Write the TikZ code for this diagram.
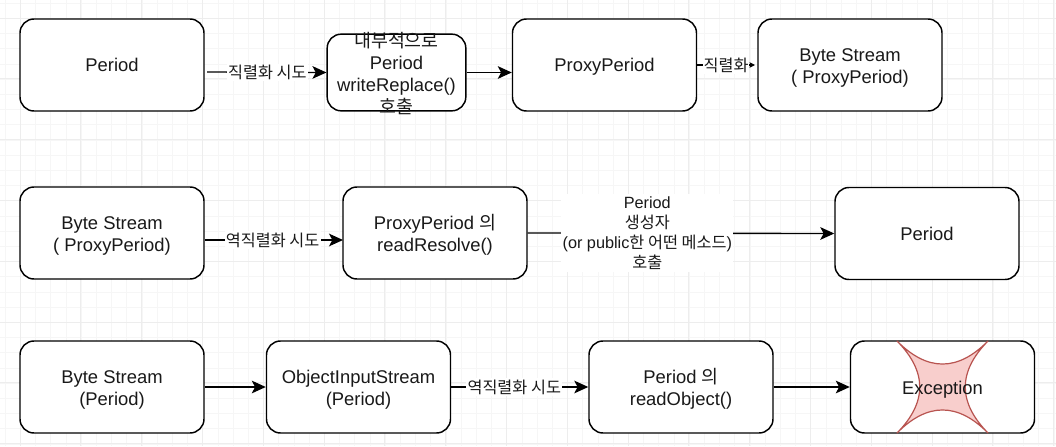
\documentclass[tikz,border=0pt]{standalone}
\usepackage{fontspec}
\setmainfont{Liberation Sans}
\newfontfamily\cjk{Noto Sans CJK KR}
\usetikzlibrary{arrows.meta}
\definecolor{starfill}{HTML}{F8CECC}
\definecolor{starline}{HTML}{B85450}
\newcommand{\dropline}{\rule{0pt}{14.5pt}}
\tikzset{
  x=0.75pt,y=-0.75pt,
  boxtext/.style={align=center,inner sep=0pt,font=\fontsize{13.8pt}{16.5pt}\selectfont,text=black!90},
  box/.style={boxtext,draw=black,line width=1.1pt,rounded corners=10.5pt,fill=white,minimum width=#1,minimum height=69pt},
  box/.default={138pt},
  conn/.style={line width=1pt,-{Stealth[length=10.5pt,width=9.5pt,inset=2.5pt]}},
  smallconn/.style={line width=1pt,-{Stealth[length=4pt,width=4pt,inset=0.5pt]}},
  elabel/.style={fill=white,inner xsep=1pt,inner ysep=1pt,align=center,font=\fontsize{12.2pt}{15pt}\selectfont,text=black!90},
  gmin/.style={draw=black!3.5,line width=0.4pt},
  gmaj/.style={draw=black!7,line width=0.6pt},
}
\begin{document}
\begin{tikzpicture}
\useasboundingbox (0,0) rectangle (1056,446);
\fill[white] (0,0) rectangle (1056,446);
\foreach \i in {0,...,70}{\draw[gmin] ({5+15.2*\i},0) -- ({5+15.2*\i},446);}
\foreach \i in {0,...,30}{\draw[gmin] (0,{3+15.2*\i}) -- (1056,{3+15.2*\i});}
\foreach \i in {0,...,17}{\draw[gmaj] ({20+60.8*\i},0) -- ({20+60.8*\i},446);}
\foreach \i in {0,...,7}{\draw[gmaj] (0,{18+60.8*\i}) -- (1056,{18+60.8*\i});}
% row 1
\node[box] (a1) at (112,65) {Period};
\node[box=104pt,minimum height=57.5pt] (a2) at (396.5,72.5) {};
\node[boxtext] (a2t) at (396.5,71) {\dropline{\cjk 내부적으로}\\Period\\writeReplace()\\{\cjk 호출}};
\node[box] (a3) at (604.5,65) {\rule{0pt}{13pt}ProxyPeriod};
\node[box] (a4) at (850,65) {\dropline Byte Stream\\( ProxyPeriod)};
% row 2
\node[box] (b1) at (112,233) {\dropline Byte Stream\\( ProxyPeriod)};
\node[box] (b2) at (435,233) {\dropline ProxyPeriod {\cjk 의}\\readResolve()};
\node[box] (b3) at (927,233.5) {Period};
% row 3
\node[box] (c1) at (112,387) {\dropline Byte Stream\\(Period)};
\node[box] (c2) at (358.5,387) {\dropline ObjectInputStream\\(Period)};
\node[box] (c3) at (681,387) {\dropline Period {\cjk 의}\\readObject()};
\node[box] (c4) at (942.5,387) {};
\filldraw[fill=starfill,draw=starline,line width=0.9pt,line join=round] (897,341) .. controls (927.3,371.7) and (957.7,371.7) .. (988,341)
  .. controls (957.7,371.7) and (957.7,402.3) .. (988,433)
  .. controls (957.7,402.3) and (927.3,402.3) .. (897,433)
  .. controls (927.3,402.3) and (927.3,371.7) .. (897,341) -- cycle;
\node[boxtext] (c4t) at (942.5,387) {\rule{0pt}{14pt}Exception};
% free-end coordinates
\coordinate (s1) at (207,72);
\coordinate (t3) at (755,65);
\coordinate (s4) at (205,240);
\coordinate (t4) at (343,240);
% connectors
\draw[conn] (s1) -- node[elabel,pos=0.5,xshift=0.5pt] (l1) {\cjk 직렬화 시도} (a2.west);
\draw[conn] (a2.east) -- (a3.west |- a2.east);
\draw[smallconn] (a3.east) -- node[elabel,pos=0.5,inner xsep=0.5pt] (l3) {\cjk 직렬화} (t3);
\draw[conn] (s4) -- node[elabel,pos=0.49] (l4) {\cjk 역직렬화 시도} (t4);
\draw[conn] (b2.east) -- node[elabel,pos=0.39,inner ysep=2pt] (l5) {Period\\{\cjk 생성자}\\(or public{\cjk 한 어떤 메소드})\\{\cjk 호출}} (b3.west);
\draw[conn] (c1.east) -- (c2.west);
\draw[conn] (c2.east) -- node[elabel,pos=0.46] (l6) {\cjk 역직렬화 시도} (c3.west);
\draw[conn] (c3.east) -- (c4.west);
\end{tikzpicture}
\end{document}
